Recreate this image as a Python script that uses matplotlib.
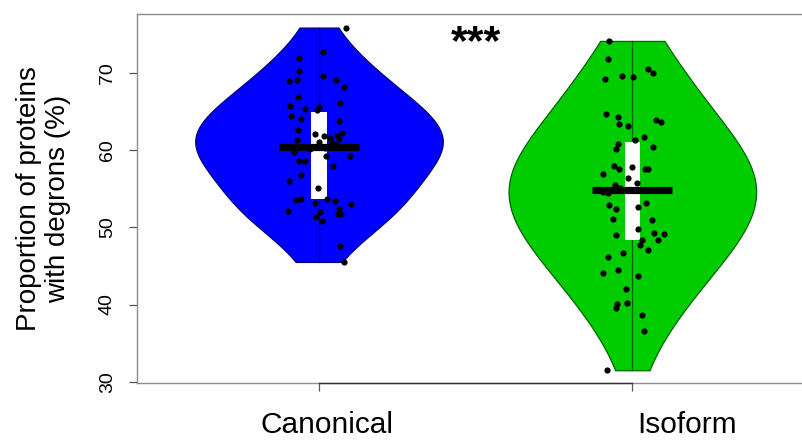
import numpy as np
import matplotlib
matplotlib.use('Agg')
import matplotlib.pyplot as plt
import matplotlib.transforms as mtransforms
from matplotlib.patches import Rectangle

plt.rcParams['font.family'] = ['Liberation Sans', 'DejaVu Sans']

# Values (percent), with the horizontal jitter of each dot
canonical_vals = [75.88, 72.72, 71.99, 70.26, 69.61, 68.96, 69.05, 69.15, 68.19, 66.89,
                  66.17, 65.69, 65.39, 65.60, 65.26, 64.39, 64.09, 63.78, 62.67, 62.28,
                  62.15, 61.80, 61.63, 61.80, 61.45, 61.37, 61.06, 60.85, 60.41, 59.30,
                  59.21, 58.60, 58.60, 58.00, 56.79, 55.97, 55.16, 53.51, 53.64, 53.68,
                  53.12, 53.42, 52.99, 52.12, 52.34, 51.96, 51.79, 51.79, 51.35, 50.83,
                  47.59, 45.52,
                  # hidden under the median bar
                  60.1, 60.3, 60.6, 59.8, 60.9]
canonical_jit = [0.086, 0.014, -0.064, -0.063, 0.014, -0.096, -0.071, 0.054, 0.080, -0.068,
                 0.067, -0.093, -0.046, -0.001, -0.007, -0.090, -0.056, 0.063, -0.067, 0.073,
                 -0.013, 0.017, 0.035, 0.056, 0.064, -0.069, 0.001, 0.050, -0.095, 0.099,
                 0.022, -0.063, -0.046, 0.044, -0.057, -0.095, -0.004, -0.073, -0.056, 0.026,
                 -0.012, 0.051, 0.101, -0.098, 0.064, 0.003, 0.062, 0.070, -0.011, 0.009,
                 0.067, 0.080,
                 -0.03, 0.02, 0.06, -0.08, 0.04]

isoform_vals = [74.15, 71.87, 69.27, 69.57, 69.48, 70.48, 70.00, 64.69, 64.30, 63.39,
                63.10, 63.87, 63.61, 61.37, 61.71, 60.85, 60.16, 60.41, 57.91, 57.56,
                57.82, 57.56, 57.62, 56.97, 56.45, 55.80, 55.54, 54.59, 54.51, 54.90,
                52.95, 52.38, 52.64, 53.16, 51.14, 51.01, 49.84, 48.98, 49.33, 49.15,
                48.42, 47.68, 48.33, 47.03, 46.74, 46.17, 44.14, 44.44, 43.67, 42.07,
                40.04, 40.17, 39.56, 38.70, 36.58, 31.49,
                # hidden under the median bar
                54.8, 55.1]
isoform_jit = [-0.073, -0.079, -0.086, -0.033, 0.002, 0.049, 0.066, -0.085, -0.046, -0.043,
               -0.013, 0.076, 0.091, 0.010, 0.037, -0.045, -0.053, 0.067, -0.058, -0.043,
               -0.001, 0.040, 0.051, -0.094, -0.014, 0.014, -0.055, -0.093, -0.077, -0.056,
               -0.075, -0.053, 0.019, 0.044, -0.063, 0.064, 0.019, -0.051, 0.069, 0.100,
               0.030, 0.025, 0.083, 0.050, -0.029, -0.078, -0.093, -0.045, 0.018, -0.019,
               -0.050, -0.018, -0.052, 0.031, 0.037, -0.082,
               0.02, -0.04]

groups = ['Canonical', 'Isoform']
medians = [60.35, 54.8]
q1 = [53.7, 48.3]
q3 = [64.9, 61.0]

fills = ['#0000FF', '#00CC00']
edges = ['#00007A', '#006400']


def kde_outline(vals, n_grid=256, bw_adjust=1.35):
    vals = np.asarray(vals)
    h = bw_adjust * vals.std(ddof=1) * (4.0 / (3.0 * len(vals))) ** 0.2
    grid = np.linspace(vals.min(), vals.max(), n_grid)
    dens = np.exp(-0.5 * ((grid[:, None] - vals[None, :]) / h) ** 2).sum(axis=1)
    dens /= len(vals) * h * np.sqrt(2 * np.pi)
    return grid, dens


fig = plt.figure(figsize=(8.02, 4.40), dpi=100)
ax = fig.add_axes([0.1704, 0.1289, 0.8296, 0.8393])

all_vals = [canonical_vals, isoform_vals]
all_jit = [canonical_jit, isoform_jit]

for i, vals in enumerate(all_vals):
    pos = i + 1
    grid, dens = kde_outline(vals)
    w = dens * 0.395 / dens.max()
    ax.fill_betweenx(grid, pos - w, pos + w, facecolor=fills[i],
                     edgecolor=edges[i], linewidth=0.9, zorder=1)
    ax.plot([pos, pos], [grid.min(), grid.max()], color=edges[i], lw=0.9, zorder=2)
    ax.add_patch(Rectangle((pos - 0.024, q1[i]), 0.048, q3[i] - q1[i],
                           facecolor='white', edgecolor='none', zorder=3))
    ax.scatter(pos + np.asarray(all_jit[i]), vals, s=20, color='black',
               linewidths=0, zorder=4)
    ax.plot([pos - 0.128, pos + 0.128], [medians[i], medians[i]], color='black',
            lw=5.2, solid_capstyle='butt', zorder=5)

ax.text(1.5, 73.9, '***', ha='center', va='center', fontsize=31, fontweight='bold')

ax.set_xlim(0.418, 2.5415)
ax.set_ylim(29.8, 77.64)

for side in ['left', 'top', 'bottom']:
    ax.spines[side].set_color('#8c8c8c')
    ax.spines[side].set_linewidth(1.0)
ax.spines['right'].set_visible(False)

trans = mtransforms.blended_transform_factory(ax.transData, ax.transAxes)
# axis line between the two ticks, as in base R
ax.plot([1, 2], [0, 0], color='#333333', lw=1.0, transform=trans,
        clip_on=False, zorder=6)

ax.set_xticks([1, 2])
ax.set_xticklabels(['', ''])
ax.tick_params(axis='x', length=6, width=0.9, color='#555555')
ax.text(1.026, -0.1346, groups[0], transform=trans, ha='center', va='baseline', fontsize=21.5)
ax.text(2.175, -0.1346, groups[1], transform=trans, ha='center', va='baseline', fontsize=21.5)

ax.set_yticks([30, 40, 50, 60, 70])
ax.tick_params(axis='y', length=6, width=0.9, color='#555555', labelsize=14, pad=9)
for lab in ax.get_yticklabels():
    lab.set_rotation(90)
    lab.set_va('center')

fig.text(0.054, 0.549, 'Proportion of proteins\nwith degrons (%)', rotation=90,
         ha='center', va='center', fontsize=20, multialignment='center', linespacing=1.15)

fig.savefig('out.png', dpi=100, facecolor='white')
